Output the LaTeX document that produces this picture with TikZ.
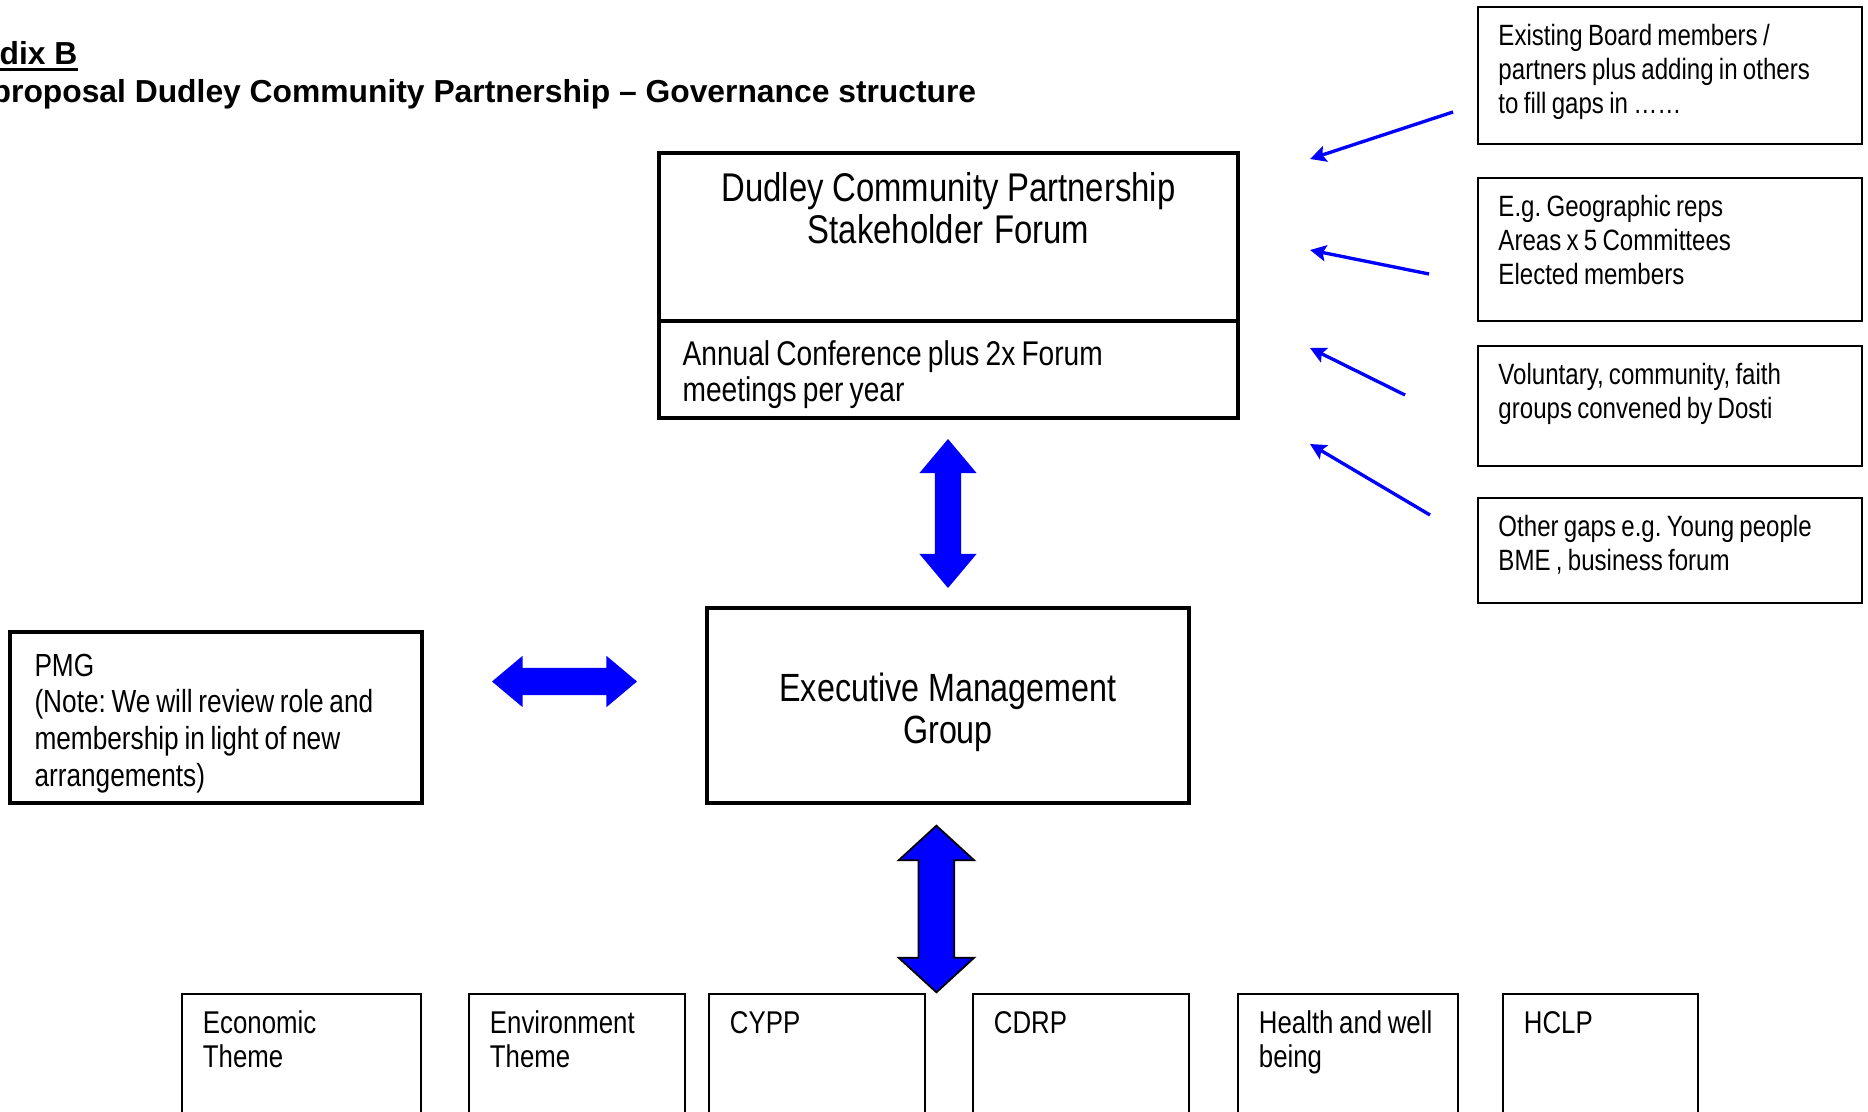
\documentclass[tikz,border=0pt]{standalone}
\usepackage{fontspec}
\setmainfont{Liberation Sans}
\newfontfamily\narrowsans{Liberation Sans}[FakeStretch=0.82]
\usepackage{tikz}
\usetikzlibrary{arrows.meta, positioning, shapes.arrows}
\newcommand{\fsz}[2]{\fontsize{#1}{#2}\selectfont}
\newcommand{\nar}[2]{\narrowsans\fsz{#1}{#2}\frenchspacing}
\tikzset{
  tight/.style   ={execute at begin node={\spaceskip=0.18em plus 0.05em\relax}},   % narrow word gaps
  hdr/.style     ={font=\bfseries\fsz{9.05}{10.5}, anchor=base west, inner sep=0pt},
  bigbox/.style  ={draw, line width=1.4pt, inner sep=0pt, outer sep=0pt, anchor=north west, tight},
  sidebox/.style ={draw, line width=0.55pt, anchor=north west, inner xsep=0.205cm, inner ysep=0pt, text width=3.43cm,
                   align=left, text height=0.385cm, font=\nar{8.35}{9.67}, tight},
  theme/.style   ={draw, line width=0.55pt, anchor=north west, inner xsep=0.21cm, inner ysep=0pt, align=left,
                   text height=0.40cm, text depth=1.6cm, font=\nar{8.95}{9.5}, tight},
  twoway/.style  ={double arrow, fill=blue, inner xsep=0pt, outer sep=0pt},             % fat two-headed arrow
  feed/.style    ={-{Stealth[length=0.16cm, width=0.16cm, inset=0.03cm]}, line width=0.95pt, blue}, % member group feeds the forum
}

\begin{document}
\begin{tikzpicture}
  \useasboundingbox (0,0) rectangle (18.68,-11.12);
  % heading
  \node[hdr] (appx) at (-0.01,-0.65) {dix B};
  \draw[line width=0.85pt] ([yshift=-1.4pt]appx.base west) -- ([yshift=-1.4pt]appx.base east);
  \node[hdr] (ttl) at (-0.09,-1.03) {proposal Dudley Community Partnership -- Governance structure};
  % forum
  \node[bigbox, text width=5.79cm, align=center, text height=0.49cm, text depth=1.19cm,
        font=\nar{11.4}{11.95}] (forum) at (6.59,-1.53) {Dudley Community Partnership\\Stakeholder Forum};
  \node[bigbox, below=0pt of forum, inner xsep=0.236cm, text width=5.318cm, align=left, text height=0.45cm,
        text depth=0.52cm, font=\nar{9.76}{10.24}] (meet) {Annual Conference plus 2x Forum\\meetings per year};
  % who sits on the forum
  \node[sidebox, text depth=0.985cm] (board) at (14.77,-0.06) {Existing Board members /\\partners plus adding in others\\to fill gaps in ……};
  \node[sidebox, text depth=1.045cm] (geo)   at (14.77,-1.775) {E.g. Geographic reps\\Areas x 5 Committees\\Elected members};
  \node[sidebox, text depth=0.806cm] (vcs)   at (14.77,-3.455) {Voluntary, community, faith\\groups convened by Dosti};
  \node[sidebox, text depth=0.661cm] (gaps)  at (14.77,-4.97) {Other gaps e.g. Young people\\BME , business forum};
  \coordinate (from1) at (14.53,-1.12);  \coordinate (to1) at (13.10,-1.59);
  \coordinate (from2) at (14.29,-2.74);  \coordinate (to2) at (13.10,-2.50);
  \coordinate (from3) at (14.05,-3.95);  \coordinate (to3) at (13.10,-3.48);
  \coordinate (from4) at (14.30,-5.15);  \coordinate (to4) at (13.10,-4.44);
  \draw[feed] (from1) -- (to1);
  \draw[feed] (from2) -- (to2);
  \draw[feed] (from3) -- (to3);
  \draw[feed] (from4) -- (to4);
  % executive + PMG
  \node[bigbox, text width=4.82cm, align=center, text height=0.93cm, text depth=1.02cm,
        font=\nar{11.2}{11.95}] (exec) at (7.07,-6.08) {Executive Management\\Group};
  \node[bigbox, inner xsep=0.245cm, text width=3.63cm, align=left, text height=0.44cm, text depth=1.27cm,
        font=\nar{9.1}{10.5}] (pmg) at (0.10,-6.32)
        {PMG\\(Note: We will review role and\\membership in light of new\\arrangements)};
  % themes
  \node[theme, text width=1.97cm] (econ)   at (1.81,-9.93)  {Economic\\Theme};
  \node[theme, text width=1.74cm] (env)    at (4.68,-9.93)  {Environment\\Theme};
  \node[theme, text width=1.74cm] (cypp)   at (7.08,-9.93)  {CYPP};
  \node[theme, text width=1.74cm] (cdrp)   at (9.72,-9.93)  {CDRP};
  \node[theme, text width=1.78cm] (health) at (12.37,-9.93) {Health and well\\being};
  \node[theme, text width=1.53cm] (hclp)   at (15.02,-9.93) {HCLP};
  % two-way links
  \node[twoway, rotate=90, minimum height=1.49cm, inner ysep=0.125cm,
        double arrow head extend=0.155cm, double arrow tip angle=80] (up1) at (9.48,-5.135) {};
  \node[twoway, minimum height=1.45cm, inner ysep=0.13cm,
        double arrow head extend=0.12cm, double arrow tip angle=80] (across) at (5.645,-6.815) {};
  \node[twoway, draw=black, line width=0.5pt, rotate=90, minimum height=1.667cm, inner ysep=0.17cm,
        double arrow head extend=0.2cm, double arrow tip angle=95] (up2) at (9.364,-9.09) {};
\end{tikzpicture}
\end{document}
